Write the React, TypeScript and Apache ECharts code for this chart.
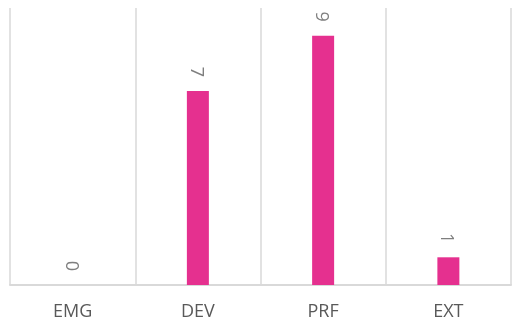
import React, { useEffect, useRef } from "react";
import * as echarts from "echarts";

const categories = ["EMG", "DEV", "PRF", "EXT"];
const values = [0, 7, 9, 1];

export default function App() {
  const ref = useRef<HTMLDivElement>(null);
  useEffect(() => {
    const chart = echarts.init(ref.current!, null, { renderer: "svg" });
    chart.setOption({
      animation: false,
      grid: { left: 10, right: 1, top: 8, bottom: 41 },
      xAxis: {
        type: "category",
        data: categories,
        axisLine: { lineStyle: { color: "#d9d9d9", width: 2 } },
        axisTick: { show: false },
        splitLine: { show: true, lineStyle: { color: "#d9d9d9", width: 1.5 } },
        axisLabel: {
          color: "#595959",
          fontSize: 18,
          fontFamily: "Open Sans",
          margin: 16,
        },
      },
      yAxis: {
        type: "value",
        min: 0,
        max: 10,
        show: false,
        splitLine: { show: false },
      },
      series: [
        {
          type: "bar",
          data: values,
          barWidth: 22,
          itemStyle: { color: "#E5308F" },
          label: {
            show: true,
            position: "top",
            rotate: -90,
            align: "right",
            verticalAlign: "middle",
            distance: 14,
            color: "#7f7f7f",
            fontSize: 18,
            fontFamily: "Open Sans",
          },
        },
      ],
    });
    return () => chart.dispose();
  }, []);
  return (
    <div
      ref={ref}
      style={{ position: "fixed", left: 0, top: 0, width: 512, height: 326 }}
    />
  );
}
